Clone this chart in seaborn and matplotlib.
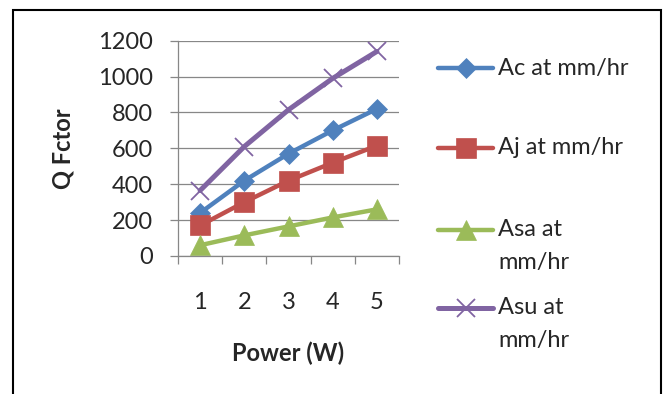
import matplotlib
matplotlib.use("Agg")
import matplotlib.pyplot as plt
from matplotlib.lines import Line2D
from matplotlib.patches import Rectangle
import seaborn as sns
import pandas as pd

# Q factor vs. power for four samples
power = [1, 2, 3, 4, 5]
ac = [240, 420, 570, 700, 820]
aj = [170, 300, 420, 520, 615]
asa = [60, 115, 165, 215, 260]
asu = [365, 610, 815, 990, 1140]

series_names = ["Ac at mm/hr", "Aj at mm/hr", "Asa at\nmm/hr", "Asu at\nmm/hr"]
series_values = [ac, aj, asa, asu]
colors = ["#4F81BD", "#C0504D", "#9BBB59", "#8064A2"]
markers = ["D", "s", "^", "x"]
msizes = [10, 14, 14, 13]
lwidths = [3.2, 3.2, 3.2, 3.6]

y_ticks = [0, 200, 400, 600, 800, 1000, 1200]

sns.set_style("white")
plt.rcParams["font.family"] = ["Lato", "DejaVu Sans"]

W, H = 666, 394
FS = 17
fig = plt.figure(figsize=(W / 100, H / 100), dpi=100)
ax = fig.add_axes([178 / W, 1 - 256 / H, (399 - 178) / W, (256 - 40.7) / H])

grid_c = "#878787"
for name, vals, c, m, ms, lw in zip(series_names, series_values, colors,
                                    markers, msizes, lwidths):
    df = pd.DataFrame({"Power": power, "Q": vals})
    sns.lineplot(data=df, x="Power", y="Q", ax=ax, color=c, linewidth=lw,
                 marker=m, markersize=ms, markeredgecolor=c,
                 markeredgewidth=1.3 if m == "x" else 0.5, legend=False)

ax.set_xlim(0.5, 5.5)
ax.set_ylim(0, 1200)
ax.set_yticks(y_ticks)
ax.set_yticklabels([str(v) for v in y_ticks], fontsize=FS)
ax.yaxis.grid(True, color=grid_c, linewidth=0.9)
ax.xaxis.grid(False)
ax.set_axisbelow(True)

# category boundaries carry the tick marks, labels sit at the centres
ax.set_xticks([0.5, 1.5, 2.5, 3.5, 4.5, 5.5])
ax.set_xticklabels([])
ax.set_xticks(power, minor=True)
ax.set_xticklabels([str(p) for p in power], minor=True, fontsize=FS)
ax.tick_params(axis="x", which="major", direction="out", length=6, width=0.9,
               color=grid_c, bottom=True)
ax.tick_params(axis="x", which="minor", length=0, pad=26)
ax.tick_params(axis="y", direction="out", length=6, width=0.9, color=grid_c,
               left=True, pad=12)

for s in ["top", "right"]:
    ax.spines[s].set_visible(False)
for s in ["left", "bottom"]:
    ax.spines[s].set_color(grid_c)
    ax.spines[s].set_linewidth(0.9)

ax.set_xlabel("Power (W)", fontsize=FS, fontweight="bold")
ax.set_ylabel("Q Fctor", fontsize=FS, fontweight="bold")
ax.xaxis.set_label_coords(0.50, -0.395)
ax.yaxis.set_label_coords(-0.47, 0.50)

# legend on the right
leg_y = [68, 148, 230, 308]
for name, c, m, ms, lw, y in zip(series_names, colors, markers, msizes,
                                 lwidths, leg_y):
    yf = 1 - y / H
    fig.add_artist(Line2D([438 / W, 493 / W], [yf, yf], color=c, linewidth=lw,
                          transform=fig.transFigure))
    fig.add_artist(Line2D([465.5 / W], [yf], color=c, marker=m, markersize=ms,
                          markeredgecolor=c,
                          markeredgewidth=1.3 if m == "x" else 0.5,
                          linestyle="none", transform=fig.transFigure))
    for i, line in enumerate(name.split("\n")):
        fig.text(498 / W, 1 - (y + 33 * i) / H, line, fontsize=FS,
                 ha="left", va="center")

# chart frame
fig.add_artist(Rectangle((13 / W, -0.05), (661 - 13) / W, 1 - 10 / H + 0.05,
                         fill=False, edgecolor="black", linewidth=1.5,
                         transform=fig.transFigure))

fig.savefig("out.png", dpi=100)
